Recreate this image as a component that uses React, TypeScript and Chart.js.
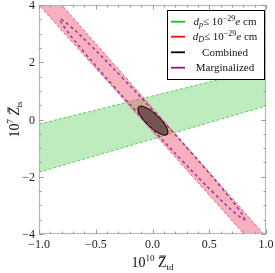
import React, { useEffect, useRef } from "react";
import { Chart, registerables } from "chart.js";

Chart.register(...registerables);

const FONT = '"Liberation Serif", "DejaVu Serif", serif';

// Bands (data units)
const greenBandX = [-1, 1, 1, -1, -1];
const greenBandY = [-1.84, 0.47, 1.8, -0.16, -1.84];

const redBandX = [-1, -0.8, 0.98, 0.806, -1];
const redBandY = [4, 4, -4, -4, 4];

// Combined contour
const combinedX = [0.131, 0.136, 0.122, 0.09, 0.044, -0.008, -0.058, -0.098, -0.123, -0.128, -0.114, -0.082, -0.036, 0.016, 0.066, 0.106, 0.131];
const combinedY = [-0.523, -0.423, -0.265, -0.073, 0.124, 0.297, 0.417, 0.469, 0.443, 0.343, 0.185, -0.007, -0.204, -0.377, -0.497, -0.549, -0.523];

// Marginalized contour
const margX = [0.815, 0.769, 0.606, 0.351, 0.042, -0.273, -0.546, -0.737, -0.815, -0.769, -0.606, -0.351, -0.042, 0.273, 0.546, 0.737, 0.815];
const margY = [-3.51, -3.183, -2.372, -1.2, 0.156, 1.488, 2.592, 3.303, 3.51, 3.183, 2.372, 1.2, -0.156, -1.488, -2.592, -3.303, -3.51];

const xMajor = [-1, -0.5, 0, 0.5, 1];
const xLabels = ["\u22121.0", "\u22120.5", "0.0", "0.5", "1.0"];
const xMinor = [-0.9, -0.8, -0.7, -0.6, -0.4, -0.3, -0.2, -0.1, 0.1, 0.2, 0.3, 0.4, 0.6, 0.7, 0.8, 0.9];
const yMajor = [-4, -2, 0, 2, 4];
const yLabels = ["\u22124", "\u22122", "0", "2", "4"];
const yMinor = [-3.5, -3, -2.5, -1.5, -1, -0.5, 0.5, 1, 1.5, 2.5, 3, 3.5];

const legendColors = ["#22bb22", "#ee1111", "#000000", "#8b1a8b"];

type Run = { t: string; size: number; italic?: boolean; dy?: number; bar?: boolean };

function runsWidth(ctx: CanvasRenderingContext2D, runs: Run[]) {
  let w = 0;
  for (const r of runs) {
    ctx.font = `${r.italic ? "italic " : ""}${r.size}px ${FONT}`;
    w += ctx.measureText(r.t).width;
  }
  return w;
}

function drawRuns(ctx: CanvasRenderingContext2D, runs: Run[], x: number, y: number) {
  let cx = x;
  ctx.textBaseline = "alphabetic";
  ctx.textAlign = "left";
  for (const r of runs) {
    ctx.font = `${r.italic ? "italic " : ""}${r.size}px ${FONT}`;
    const w = ctx.measureText(r.t).width;
    ctx.fillText(r.t, cx, y + (r.dy || 0));
    if (r.bar) {
      ctx.save();
      ctx.lineWidth = 1;
      ctx.strokeStyle = ctx.fillStyle as string;
      const by = y + (r.dy || 0) - r.size * 0.78;
      ctx.beginPath();
      ctx.moveTo(cx + 1.5 + (r.italic ? 1.5 : 0), by);
      ctx.lineTo(cx + w - 0.5 + (r.italic ? 1 : 0), by);
      ctx.stroke();
      ctx.restore();
    }
    cx += w;
  }
}

const framePlugin = {
  id: "framePlugin",
  afterDraw(chart: any) {
    const ctx: CanvasRenderingContext2D = chart.ctx;
    const { left, right, top, bottom } = chart.chartArea;
    const xs = chart.scales.x;
    const ys = chart.scales.y;
    ctx.save();
    // frame
    ctx.strokeStyle = "#b8b8b8";
    ctx.lineWidth = 1.2;
    ctx.strokeRect(left + 0.5, top + 0.5, right - left - 1, bottom - top - 1);
    // ticks
    ctx.strokeStyle = "#999999";
    ctx.lineWidth = 1;
    ctx.beginPath();
    const tx = (v: number, len: number) => {
      const p = Math.round(xs.getPixelForValue(v)) + 0.5;
      ctx.moveTo(p, bottom);
      ctx.lineTo(p, bottom - len);
      ctx.moveTo(p, top);
      ctx.lineTo(p, top + len);
    };
    const ty = (v: number, len: number) => {
      const p = Math.round(ys.getPixelForValue(v)) + 0.5;
      ctx.moveTo(left, p);
      ctx.lineTo(left + len, p);
      ctx.moveTo(right, p);
      ctx.lineTo(right - len, p);
    };
    xMajor.forEach((v) => tx(v, 4.5));
    xMinor.forEach((v) => tx(v, 2.5));
    yMajor.forEach((v) => ty(v, 4.5));
    yMinor.forEach((v) => ty(v, 2.5));
    ctx.stroke();

    // tick labels
    ctx.fillStyle = "#222222";
    ctx.font = `12px ${FONT}`;
    ctx.textBaseline = "alphabetic";
    ctx.textAlign = "center";
    xMajor.forEach((v, i) => {
      ctx.fillText(xLabels[i], xs.getPixelForValue(v), bottom + 14);
    });
    ctx.textAlign = "right";
    yMajor.forEach((v, i) => {
      ctx.fillText(yLabels[i], left - 4, ys.getPixelForValue(v) + 4);
    });

    // x title
    const xRuns: Run[] = [
      { t: "10", size: 14 },
      { t: "10", size: 9, dy: -6 },
      { t: " ", size: 14 },
      { t: "Z", size: 14, bar: true },
      { t: "td", size: 9, dy: 3 },
    ];
    const xw = runsWidth(ctx, xRuns);
    ctx.fillStyle = "#111111";
    drawRuns(ctx, xRuns, (left + right) / 2 - xw / 2, 267);

    // y title
    const yRuns: Run[] = [
      { t: "10", size: 14 },
      { t: "7", size: 9, dy: -6 },
      { t: " ", size: 14 },
      { t: "Z", size: 14, italic: true, bar: true },
      { t: "ts", size: 9, dy: 3 },
    ];
    const yw = runsWidth(ctx, yRuns);
    ctx.save();
    ctx.translate(19, (top + bottom) / 2);
    ctx.rotate(-Math.PI / 2);
    drawRuns(ctx, yRuns, -yw / 2, 0);
    ctx.restore();

    // legend
    const lx = 167, ly = 10, lw = 97, lh = 69;
    ctx.fillStyle = "#ffffff";
    ctx.fillRect(lx, ly, lw, lh);
    ctx.strokeStyle = "#000000";
    ctx.lineWidth = 1;
    ctx.strokeRect(lx + 0.5, ly + 0.5, lw, lh);
    const rows: Run[][] = [
      [
        { t: "d", size: 11, italic: true },
        { t: "p", size: 8, italic: true, dy: 2 },
        { t: "\u2264 10", size: 11 },
        { t: "\u221229", size: 8, dy: -4 },
        { t: "e", size: 11, italic: true },
        { t: " cm", size: 11 },
      ],
      [
        { t: "d", size: 11, italic: true },
        { t: "D", size: 8, italic: true, dy: 2 },
        { t: "\u2264 10", size: 11 },
        { t: "\u221229", size: 8, dy: -4 },
        { t: "e", size: 11, italic: true },
        { t: " cm", size: 11 },
      ],
      [{ t: "Combined", size: 11 }],
      [{ t: "Marginalized", size: 11 }],
    ];
    const rowY = [21.7, 36.7, 52.3, 67.7];
    rows.forEach((runs, i) => {
      ctx.strokeStyle = legendColors[i];
      ctx.lineWidth = 1.8;
      ctx.beginPath();
      ctx.moveTo(171, rowY[i]);
      ctx.lineTo(185, rowY[i]);
      ctx.stroke();
      const w = runsWidth(ctx, runs);
      ctx.fillStyle = "#111111";
      drawRuns(ctx, runs, 225 - w / 2, rowY[i] + 3.5);
    });
    ctx.restore();
  },
};

function pts(xs: number[], ys: number[]) {
  return xs.map((x, i) => ({ x, y: ys[i] }));
}

export default function App() {
  const ref = useRef<HTMLCanvasElement | null>(null);
  useEffect(() => {
    if (!ref.current) return;
    const chart = new Chart(ref.current, {
      type: "scatter",
      data: {
        datasets: [
          {
            label: "green",
            data: pts(greenBandX, greenBandY),
            showLine: true,
            pointRadius: 0,
            borderColor: "rgba(90,195,90,0.9)",
            borderWidth: 1,
            borderDash: [3, 2],
            backgroundColor: "rgba(100,210,100,0.42)",
            fill: "shape",
            tension: 0,
            order: 4,
            clip: 0,
          } as any,
          {
            label: "red",
            data: pts(redBandX, redBandY),
            showLine: true,
            pointRadius: 0,
            borderColor: "rgba(235,90,110,0.9)",
            borderWidth: 1,
            borderDash: [3, 2],
            backgroundColor: "rgba(235,80,110,0.45)",
            fill: "shape",
            tension: 0,
            order: 3,
            clip: 0,
          } as any,
          {
            label: "marginalized",
            data: pts(margX, margY),
            showLine: true,
            pointRadius: 0,
            borderColor: "rgba(140,50,160,0.95)",
            borderWidth: 1.5,
            borderDash: [3, 3],
            fill: false,
            tension: 0.4,
            order: 2,
            clip: 0,
          } as any,
          {
            label: "combined",
            data: pts(combinedX, combinedY),
            showLine: true,
            pointRadius: 0,
            borderColor: "#000000",
            borderWidth: 1,
            backgroundColor: "rgba(60,30,30,0.6)",
            fill: "shape",
            tension: 0.4,
            order: 1,
            clip: 0,
          } as any,
        ],
      },
      options: {
        responsive: false,
        animation: false,
        layout: { padding: { left: 39, top: 5, right: 9, bottom: 39 } },
        scales: {
          x: { type: "linear", min: -1, max: 1, display: false },
          y: { type: "linear", min: -4, max: 4, display: false },
        },
        plugins: { legend: { display: false }, tooltip: { enabled: false } },
      },
      plugins: [framePlugin],
    });
    return () => chart.destroy();
  }, []);
  return (
    <div style={{ position: "absolute", left: 0, top: 0, width: 275, height: 273, background: "#fff" }}>
      <canvas ref={ref} width={275} height={273} style={{ display: "block" }} />
    </div>
  );
}
